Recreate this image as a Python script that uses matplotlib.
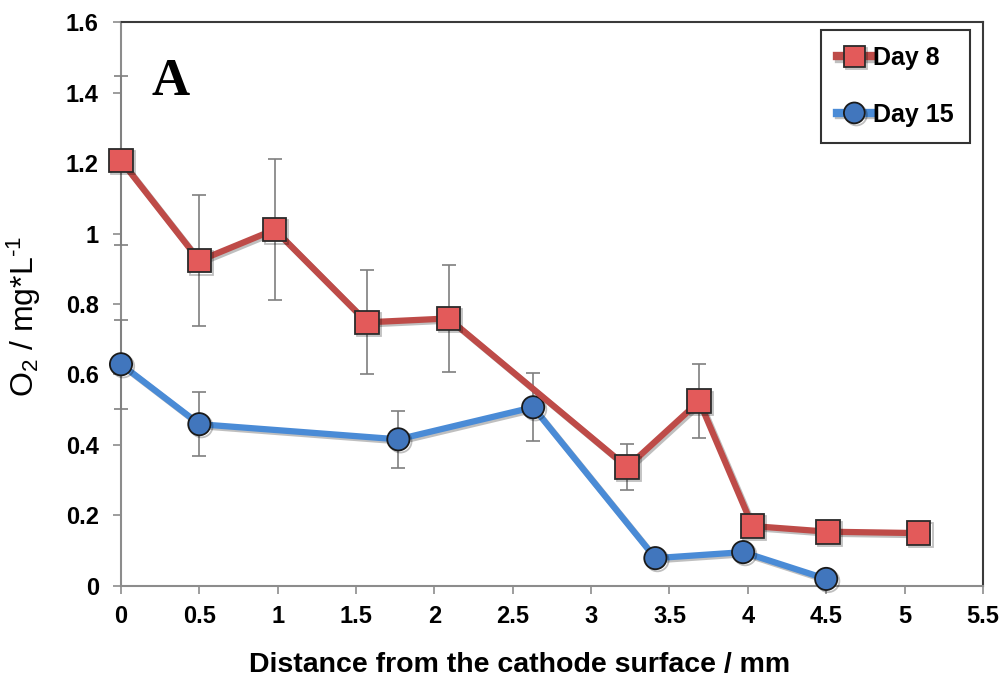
import matplotlib
matplotlib.use('Agg')
import matplotlib.pyplot as plt
import matplotlib.patheffects as pe

plt.rcParams['mathtext.fontset'] = 'custom'
plt.rcParams['mathtext.rm'] = 'Liberation Sans'
plt.rcParams['mathtext.it'] = 'Liberation Sans'

# Day 8 (red squares)
x8 = [0.0, 0.5, 0.98, 1.57, 2.09, 3.23, 3.69, 4.03, 4.51, 5.09]
y8 = [1.207, 0.923, 1.011, 0.748, 0.759, 0.337, 0.524, 0.17, 0.154, 0.15]
e8 = [0.24, 0.185, 0.20, 0.148, 0.152, 0.066, 0.105, 0.03, 0.01, 0.0]

# Day 15 (blue circles)
x15 = [0.0, 0.5, 1.77, 2.63, 3.41, 3.97, 4.50]
y15 = [0.629, 0.459, 0.416, 0.507, 0.079, 0.096, 0.02]
e15 = [0.126, 0.09, 0.081, 0.097, 0.0, 0.0, 0.0]

xticks = [0, 0.5, 1, 1.5, 2, 2.5, 3, 3.5, 4, 4.5, 5, 5.5]
yticks = [0, 0.2, 0.4, 0.6, 0.8, 1.0, 1.2, 1.4, 1.6]

fig = plt.figure(figsize=(10.05, 6.82), dpi=100)
ax = fig.add_axes([0.1204, 0.1408, 0.8576, 0.8269])

shadow = [pe.SimpleLineShadow(offset=(1.5, -1.5), alpha=0.25), pe.Normal()]

ax.errorbar(x8, y8, yerr=e8, fmt='none', ecolor='#7f7f7f', elinewidth=1.2,
            capsize=5, capthick=1.2, zorder=2, clip_on=False)
ax.errorbar(x15, y15, yerr=e15, fmt='none', ecolor='#7f7f7f', elinewidth=1.2,
            capsize=5, capthick=1.2, zorder=2, clip_on=False)

ax.plot(x8, y8, color='#BE4B48', lw=4.5, marker='s', ms=17,
        mfc='#E35A5A', mec='#2a2a2a', mew=1.3, label='Day 8',
        zorder=4, path_effects=shadow, clip_on=False)
ax.plot(x15, y15, color='#4A8BD6', lw=4.5, marker='o', ms=16,
        mfc='#4176BD', mec='#1a1a1a', mew=1.3, label='Day 15',
        zorder=3, path_effects=shadow, clip_on=False)

ax.set_xlim(0, 5.5)
ax.set_ylim(0, 1.6)
ax.set_xticks(xticks)
ax.set_xticklabels(['%g' % t for t in xticks])
ax.set_yticks(yticks)
ax.set_yticklabels(['%g' % t for t in yticks])
ax.tick_params(direction='out', length=6, width=1.2, color='#8c8c8c',
               labelsize=17)
ax.tick_params(axis='x', pad=8)
ax.tick_params(axis='y', pad=10)
for lab in ax.get_xticklabels() + ax.get_yticklabels():
    lab.set_fontfamily('Liberation Sans')
    lab.set_fontweight('bold')

for s in ['left', 'bottom']:
    ax.spines[s].set_color('#8c8c8c')
    ax.spines[s].set_linewidth(1.5)
for s in ['top', 'right']:
    ax.spines[s].set_color('#3a3a3a')
    ax.spines[s].set_linewidth(1.5)
for s in ax.spines.values():
    s.set_zorder(1)

ax.set_xlabel('Distance from the cathode surface / mm', fontsize=20.5,
              fontweight='bold', family='Liberation Sans')
ax.xaxis.set_label_coords(0.462, -0.117)
ax.set_ylabel('O$_\\mathregular{2}$ / mg*L$^\\mathregular{\u20101}$',
              fontsize=23, family='Liberation Sans')
ax.yaxis.set_label_coords(-0.091, 0.478)

ax.text(0.035, 0.893, 'A', transform=ax.transAxes, fontsize=38,
        fontweight='bold', family='Liberation Serif', ha='left', va='center')

leg = ax.legend(loc='upper right', bbox_to_anchor=(0.985, 0.986),
                prop={'family': 'Liberation Sans', 'weight': 'bold', 'size': 18},
                frameon=True, fancybox=False, edgecolor='black',
                handlelength=1.4, handletextpad=0.05, borderpad=0.65,
                labelspacing=1.3, borderaxespad=0.0)
leg.get_frame().set_linewidth(1.5)
for h in leg.legend_handles:
    h.set_markersize(15)
    h.set_linewidth(6)

fig.savefig('out.png', dpi=100)
